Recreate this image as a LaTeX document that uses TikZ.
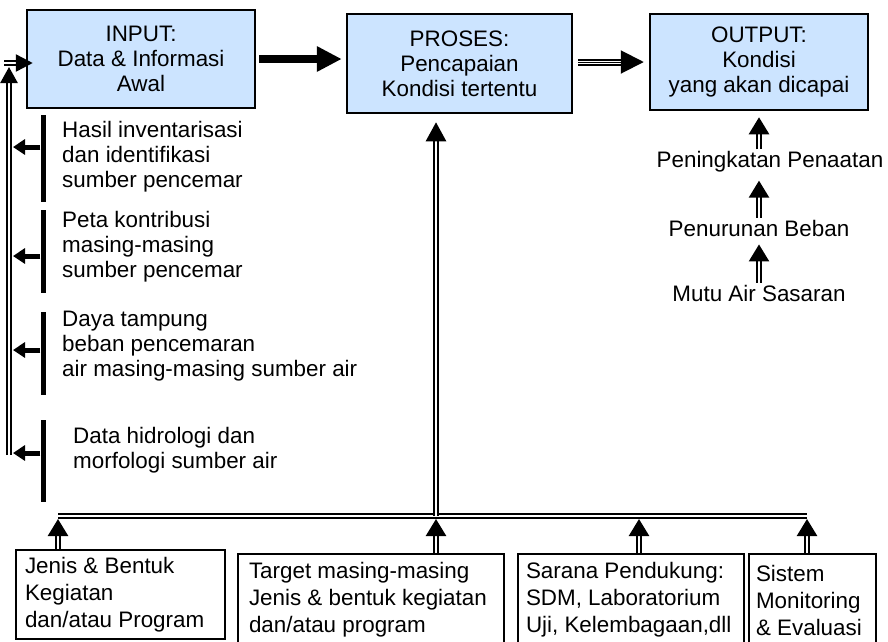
\documentclass[tikz,border=0pt]{standalone}
\usepackage{fontspec}
\setmainfont{Liberation Sans}
\usetikzlibrary{arrows.meta}
\definecolor{KotakBiru}{RGB}{204,228,255}

\begin{document}
\begin{tikzpicture}[x=1pt, y=-1pt,
    font=\fontsize{22.4pt}{25pt}\selectfont,
    blok/.style={draw, line width=2.5pt, fill=KotakBiru, align=center, inner sep=0pt},
    kotak/.style={draw, line width=2pt, align=flush left, anchor=north west, inner ysep=0pt,
        font=\fontsize{22.4pt}{27pt}\selectfont},
    teks/.style={align=left, anchor=west, inner sep=0pt},
    palang/.style={fill=black, minimum width=5pt, inner sep=0pt},
    panah/.style={line width=5pt, -{Triangle[length=12pt,width=15pt]}},
    ganda/.style={double=white, double distance=1.5pt, line width=2.5pt},
    panahganda/.style={ganda, -{Triangle[length=17pt,width=20pt]}}]
    \useasboundingbox (0,0) rectangle (888,641);

    % Three main boxes
    \node[blok, minimum width=228pt, minimum height=98pt] (Input) at (141,59) {INPUT:\\Data \& Informasi\\Awal};
    \node[blok, minimum width=225pt, minimum height=99pt] (Proses) at (459.5,63.5) {PROSES:\\Pencapaian\\Kondisi tertentu};
    \node[blok, minimum width=218pt, minimum height=96pt] (Output) at (759,62) {OUTPUT:\\Kondisi\\yang akan dicapai};

    \draw[line width=8pt, -{Triangle[length=25pt,width=24pt]}, shorten <=3pt, shorten >=4pt]
        (Input.east) -- (Input.east -| Proses.west);
    \draw[ganda, line width=2pt, double distance=3pt, postaction={draw, -, line width=1pt, shorten >=20pt},
        -{Triangle[length=23pt,width=23pt]}, shorten <=5pt, shorten >=5pt]
        (Proses.east |- Output.west) -- (Output.west);

    % Output chain
    \node[inner sep=2pt] (Penaatan) at (770,162) {Peningkatan Penaatan};
    \node[inner sep=2pt] (Beban) at (759,228) {Penurunan Beban};
    \node[inner sep=2pt] (MutuAir) at (759,293) {Mutu Air Sasaran};

    \draw[panahganda, shorten >=6pt] (Penaatan.north -| Output.south) -- (Output.south);
    \draw[panahganda, shorten >=6pt] (Beban.north) -- (Beban.north |- Penaatan.south);
    \draw[panahganda, shorten >=6pt] (MutuAir.north) -- (Beban.south);

    % Left side: bars with their texts
    \foreach \nama/\ya/\yb/\yp in {A/115/202/147, B/210/293/256, C/312/395/350, D/420/502/453}
    {
        \node[palang, minimum height=\yb-\ya] (Palang\nama) at (43,{(\ya+\yb)/2}) {};
        \coordinate (Kiri\nama) at (13,\yp);
        \draw[panah] (Palang\nama.west |- Kiri\nama) -- (Kiri\nama);
    }

    \node[teks] (Hasil) at (62,157) {Hasil inventarisasi\\dan identifikasi\\sumber pencemar};
    \node[teks] (Peta) at (62,246.5) {Peta kontribusi\\masing-masing\\sumber pencemar};
    \node[teks] (Daya) at (62,346) {Daya tampung\\beban pencemaran\\air masing-masing sumber air};
    \node[teks] (Hidrologi) at (73,450) {Data hidrologi dan\\morfologi sumber air};

    \coordinate (KiriBawah) at (9,455);
    \coordinate (KiriAtas) at (9,63);
    \coordinate (KiriSudut) at (4,63);
    \draw[panahganda, -{Triangle[length=16pt,width=17pt]}, shorten >=4pt] (KiriBawah) -- (KiriAtas);
    \draw[panahganda, -{Triangle[length=17pt,width=17pt]}, shorten >=-7pt] (KiriSudut) -- (Input.west |- KiriSudut);

    % Bottom boxes and the bus
    \node[kotak, inner xsep=9pt, text width=191pt, minimum height=89pt] (Jenis) at (15,549)
        {Jenis \& Bentuk\\Kegiatan\\dan/atau Program};
    \node[kotak, inner xsep=11pt, text width=244pt, minimum height=92pt] (Target) at (237,553)
        {Target masing-masing\\Jenis \& bentuk kegiatan\\dan/atau program};
    \node[kotak, inner xsep=8pt, text width=210pt, minimum height=92pt] (Sarana) at (517,553)
        {Sarana Pendukung:\\SDM, Laboratorium\\Uji, Kelembagaan,dll};
    \node[kotak, inner xsep=7pt, text width=113pt, minimum height=92pt] (Sistem) at (748,553)
        {Sistem\\Monitoring\\\& Evaluasi};

    \coordinate (BusA) at (58,516);
    \coordinate (BusB) at (436,516);
    \coordinate (BusC) at (639,516);
    \coordinate (BusD) at (807,516);
    \draw[ganda] (BusA) -- (BusD);

    \foreach \x/\y in {Jenis/BusA, Target/BusB, Sarana/BusC, Sistem/BusD}
    {
        \draw[panahganda, shorten >=3pt] (\x.north -| \y) -- (\y);
    }

    \draw[panahganda, -{Triangle[length=19pt,width=20pt]}, shorten >=8pt] (BusB) -- (BusB |- Proses.south);
\end{tikzpicture}
\end{document}
